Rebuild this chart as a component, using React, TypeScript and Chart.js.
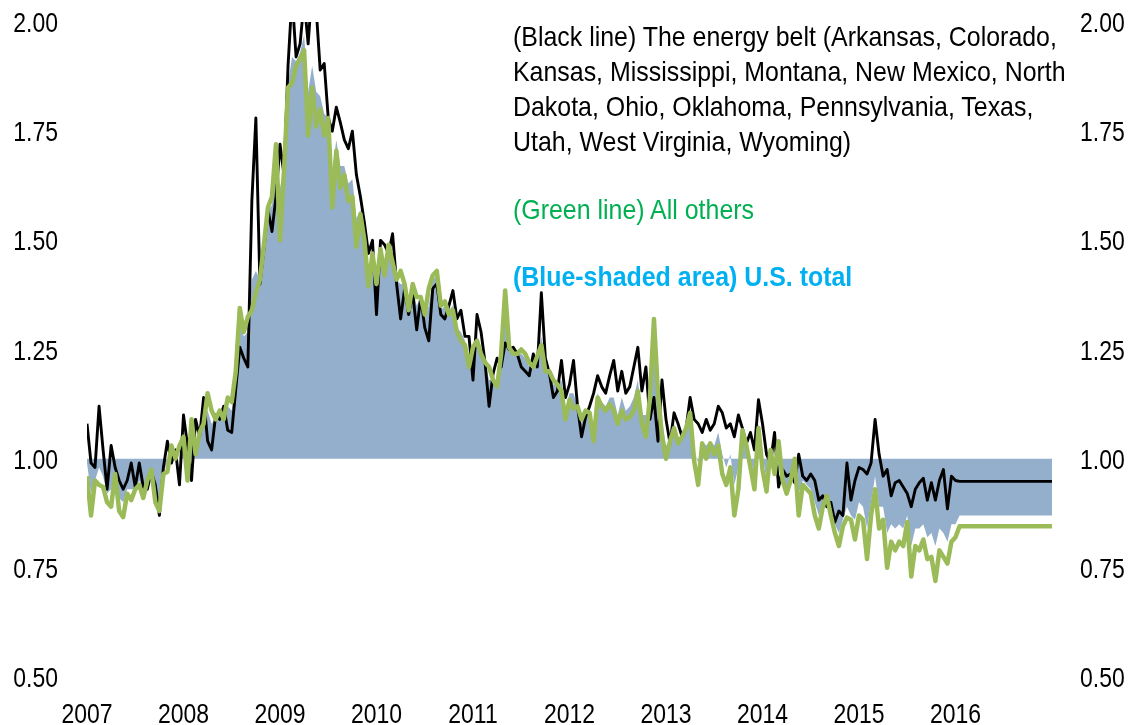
import React, { useEffect, useRef } from "react";
import { Chart, registerables } from "chart.js";

Chart.register(...registerables);

// Semi-monthly observations from 2007.0 (step 1/24 year), last value = flat level held to 2017
const START_YEAR = 2007;
const END_YEAR = 2017;
const STEPS_PER_YEAR = 24;

const energyBelt = [
  1.08, 0.99, 0.98, 1.12, 1.02, 0.93, 1.03, 0.98, 0.95, 0.93, 0.95, 0.99, 0.935, 0.99, 0.935, 0.93, 0.97, 0.94, 0.87, 0.98, 1.04, 0.99, 1.02, 0.94,
  1.10, 1.03, 0.95, 1.09, 1.05, 1.14, 1.04, 1.02, 1.10, 1.09, 1.12, 1.065, 1.06, 1.16, 1.255, 1.23, 1.21, 1.59, 1.78, 1.40, 1.48, 1.57, 1.52, 1.60,
  1.72, 1.65, 1.90, 2.06, 1.92, 1.95, 2.05, 1.95, 2.08, 2.03, 1.89, 1.905, 1.78, 1.75, 1.805, 1.77, 1.73, 1.71, 1.75, 1.65, 1.60, 1.54, 1.47, 1.50,
  1.33, 1.50, 1.49, 1.47, 1.515, 1.40, 1.32, 1.39, 1.33, 1.38, 1.295, 1.37, 1.30, 1.27, 1.39, 1.40, 1.33, 1.32, 1.35, 1.385, 1.32, 1.34, 1.28, 1.28,
  1.18, 1.33, 1.29, 1.22, 1.12, 1.195, 1.23, 1.21, 1.265, 1.25, 1.255, 1.24, 1.21, 1.20, 1.19, 1.24, 1.21, 1.38, 1.23, 1.195, 1.14, 1.155, 1.225, 1.14,
  1.17, 1.225, 1.12, 1.05, 1.095, 1.12, 1.15, 1.19, 1.165, 1.15, 1.19, 1.225, 1.155, 1.20, 1.15, 1.165, 1.21, 1.255, 1.155, 1.21, 1.09, 1.14, 1.04, 1.18,
  1.09, 1.035, 1.105, 1.08, 1.05, 1.07, 1.14, 1.09, 1.08, 1.06, 1.09, 1.065, 1.08, 1.12, 1.105, 1.07, 1.08, 1.05, 1.10, 1.07, 1.035, 1.06, 1.02, 1.135,
  1.08, 1.01, 0.99, 1.06, 0.935, 0.975, 0.96, 0.965, 0.945, 1.01, 0.96, 0.95, 0.965, 0.95, 0.905, 0.915, 0.89, 0.90, 0.855, 0.88, 0.87, 0.99, 0.905, 0.95,
  0.98, 0.975, 0.965, 0.99, 1.09, 1.01, 0.96, 0.975, 0.915, 0.945, 0.95, 0.935, 0.92, 0.89, 0.93, 0.945, 0.955, 0.905, 0.945, 0.905, 0.95, 0.975, 0.885, 0.96,
  0.95, 0.948,
  0.948,
];

const allOthers = [
  0.96, 0.87, 0.95, 0.94, 0.935, 0.90, 0.89, 0.965, 0.88, 0.866, 0.92, 0.905, 0.93, 0.94, 0.91, 0.95, 0.975, 0.90, 0.88, 0.965, 0.97, 1.03, 1.00, 1.03,
  1.05, 0.95, 1.09, 1.01, 1.06, 1.08, 1.15, 1.11, 1.09, 1.11, 1.09, 1.14, 1.13, 1.20, 1.345, 1.29, 1.325, 1.34, 1.38, 1.41, 1.49, 1.575, 1.60, 1.72,
  1.50, 1.66, 1.85, 1.86, 1.90, 1.915, 1.935, 1.74, 1.85, 1.76, 1.80, 1.74, 1.78, 1.575, 1.705, 1.62, 1.65, 1.59, 1.60, 1.485, 1.56, 1.50, 1.395, 1.47,
  1.40, 1.48, 1.42, 1.49, 1.45, 1.41, 1.43, 1.40, 1.34, 1.40, 1.37, 1.37, 1.33, 1.39, 1.42, 1.43, 1.35, 1.36, 1.33, 1.34, 1.29, 1.27, 1.26, 1.21,
  1.255, 1.27, 1.24, 1.22, 1.21, 1.18, 1.165, 1.24, 1.385, 1.255, 1.24, 1.24, 1.25, 1.24, 1.22, 1.21, 1.235, 1.26, 1.20, 1.20, 1.18, 1.17, 1.155, 1.09,
  1.135, 1.115, 1.12, 1.09, 1.11, 1.105, 1.04, 1.14, 1.12, 1.11, 1.125, 1.11, 1.08, 1.11, 1.09, 1.095, 1.11, 1.155, 1.08, 1.05, 1.14, 1.32, 1.15, 1.05,
  1.00, 1.04, 1.07, 1.035, 1.05, 1.07, 1.105, 0.995, 0.94, 1.035, 1.00, 1.035, 1.01, 1.03, 0.965, 0.94, 0.98, 0.87, 0.93, 1.065, 1.03, 0.98, 0.93, 1.07,
  0.975, 0.925, 1.02, 0.965, 1.04, 0.95, 0.92, 0.95, 1.00, 0.87, 0.94, 0.93, 0.92, 0.87, 0.84, 0.89, 0.915, 0.87, 0.83, 0.80, 0.845, 0.865, 0.86, 0.815,
  0.87, 0.86, 0.77, 0.87, 0.93, 0.84, 0.86, 0.75, 0.81, 0.79, 0.81, 0.80, 0.855, 0.73, 0.80, 0.79, 0.815, 0.77, 0.775, 0.72, 0.79, 0.775, 0.76, 0.81,
  0.82, 0.845,
  0.845,
];

const usTotal = [
  0.99, 0.92, 0.95, 0.98, 0.96, 0.92, 0.93, 0.97, 0.91, 0.90, 0.93, 0.93, 0.93, 0.95, 0.92, 0.94, 0.97, 0.92, 0.89, 0.97, 0.99, 1.02, 1.00, 1.00,
  1.06, 0.98, 1.04, 1.03, 1.05, 1.09, 1.11, 1.08, 1.09, 1.10, 1.10, 1.12, 1.11, 1.19, 1.31, 1.28, 1.29, 1.41, 1.43, 1.41, 1.48, 1.57, 1.58, 1.68,
  1.62, 1.67, 1.86, 1.92, 1.91, 1.93, 1.97, 1.84, 1.90, 1.84, 1.83, 1.79, 1.78, 1.66, 1.73, 1.67, 1.67, 1.63, 1.64, 1.55, 1.57, 1.51, 1.43, 1.48,
  1.39, 1.48, 1.44, 1.48, 1.47, 1.41, 1.40, 1.40, 1.34, 1.39, 1.35, 1.37, 1.32, 1.35, 1.41, 1.42, 1.34, 1.35, 1.34, 1.35, 1.30, 1.29, 1.27, 1.23,
  1.23, 1.28, 1.25, 1.22, 1.18, 1.18, 1.18, 1.23, 1.32, 1.25, 1.24, 1.24, 1.24, 1.23, 1.21, 1.22, 1.23, 1.28, 1.21, 1.20, 1.17, 1.17, 1.18, 1.11,
  1.15, 1.15, 1.12, 1.08, 1.11, 1.11, 1.08, 1.15, 1.13, 1.12, 1.14, 1.14, 1.10, 1.14, 1.11, 1.12, 1.14, 1.18, 1.10, 1.10, 1.12, 1.24, 1.12, 1.09,
  1.03, 1.04, 1.08, 1.05, 1.05, 1.07, 1.11, 1.02, 0.99, 1.04, 1.03, 1.04, 1.03, 1.06, 1.01, 0.98, 1.01, 0.94, 0.98, 1.06, 1.03, 1.00, 0.96, 1.08,
  1.01, 0.95, 1.01, 0.99, 1.00, 0.96, 0.93, 0.95, 0.98, 0.92, 0.95, 0.94, 0.93, 0.90, 0.87, 0.90, 0.91, 0.88, 0.85, 0.83, 0.86, 0.89, 0.87, 0.86,
  0.90, 0.89, 0.84, 0.90, 0.96, 0.89, 0.89, 0.83, 0.85, 0.84, 0.85, 0.84, 0.87, 0.80, 0.84, 0.84, 0.85, 0.82, 0.83, 0.80, 0.84, 0.83, 0.81, 0.85,
  0.85, 0.87,
  0.87,
];

const yearTicks = [2007, 2008, 2009, 2010, 2011, 2012, 2013, 2014, 2015, 2016];
const yTicks = [0.5, 0.75, 1.0, 1.25, 1.5, 1.75, 2.0];

const blackNoteLines = [
  "(Black line) The energy belt (Arkansas, Colorado,",
  "Kansas, Mississippi, Montana, New Mexico, North",
  "Dakota, Ohio, Oklahoma, Pennsylvania, Texas,",
  "Utah, West Virginia, Wyoming)",
];
const greenNote = "(Green line) All others";
const blueNote = "(Blue-shaded area) U.S. total";

const FONT = "'Liberation Sans', Arial, sans-serif";
const NARROW = 0.82; // horizontal squeeze for tick labels (narrow face look)
const NOTE_NARROW = 0.89; // horizontal squeeze for annotation text

// Draws tick labels with a horizontally condensed font
const narrowTicks = {
  id: "narrowTicks",
  afterDraw(chart: any) {
    const ctx = chart.ctx as CanvasRenderingContext2D;
    const { left, right } = chart.chartArea;
    const ys = chart.scales.y;
    const xsc = chart.scales.x;
    const put = (text: string, x: number, y: number, align: CanvasTextAlign) => {
      ctx.save();
      ctx.translate(x, y);
      ctx.scale(NARROW, 1);
      ctx.textAlign = align;
      ctx.textBaseline = "alphabetic";
      ctx.fillText(text, 0, 0);
      ctx.restore();
    };
    ctx.save();
    ctx.font = `28px ${FONT}`;
    ctx.fillStyle = "#000";
    for (const v of yTicks) {
      const py = ys.getPixelForValue(v) + 10;
      const label = v.toFixed(2);
      put(label, left - 29, py, "right");
      put(label, right + 28, py, "left");
    }
    for (const yr of yearTicks) {
      put(String(yr), xsc.getPixelForValue(yr), 723, "center");
    }
    ctx.restore();
  },
};

export default function App() {
  const canvasRef = useRef<HTMLCanvasElement | null>(null);

  useEffect(() => {
    const canvas = canvasRef.current;
    if (!canvas) return;
    const n = energyBelt.length;
    const xs = Array.from({ length: n }, (_, i) =>
      i === n - 1 ? END_YEAR : START_YEAR + i / STEPS_PER_YEAR
    );
    const chart = new Chart(canvas, {
      type: "line",
      data: {
        labels: xs,
        datasets: [
          {
            label: "All others",
            data: allOthers,
            borderColor: "#9BBB59",
            borderWidth: 4.5,
            pointRadius: 0,
            fill: false,
            order: 1,
            borderJoinStyle: "round",
            yAxisID: "y",
          },
          {
            label: "Energy belt",
            data: energyBelt,
            borderColor: "#000000",
            borderWidth: 2.9,
            pointRadius: 0,
            fill: false,
            order: 2,
            borderJoinStyle: "round",
            yAxisID: "y",
          },
          {
            label: "U.S. total",
            data: usTotal,
            borderColor: "rgba(0,0,0,0)",
            borderWidth: 0,
            backgroundColor: "#93AFCB",
            pointRadius: 0,
            fill: { value: 1 },
            order: 3,
            yAxisID: "y",
          },
        ],
      },
      options: {
        animation: false,
        responsive: false,
        maintainAspectRatio: false,
        layout: { padding: { top: 22, left: 0, right: 0, bottom: 0 } },
        plugins: { legend: { display: false }, tooltip: { enabled: false } },
        scales: {
          x: {
            type: "linear",
            min: START_YEAR,
            max: END_YEAR,
            grid: { display: false, drawTicks: false },
            border: { display: false },
            afterBuildTicks: (s: any) => {
              s.ticks = yearTicks.map((v) => ({ value: v }));
            },
            afterFit: (s: any) => {
              s.height = 48;
            },
            ticks: { display: false },
          },
          y: {
            position: "left",
            min: 0.5,
            max: 2.0,
            grid: { display: false, drawTicks: false },
            border: { display: false },
            afterBuildTicks: (s: any) => {
              s.ticks = yTicks.map((v) => ({ value: v }));
            },
            afterFit: (s: any) => {
              s.width = 87;
            },
            ticks: { display: false },
          },
          y2: {
            position: "right",
            min: 0.5,
            max: 2.0,
            grid: { display: false, drawTicks: false },
            border: { display: false },
            afterBuildTicks: (s: any) => {
              s.ticks = yTicks.map((v) => ({ value: v }));
            },
            afterFit: (s: any) => {
              s.width = 80;
            },
            ticks: { display: false },
          },
        },
      },
      plugins: [narrowTicks],
    } as any);
    return () => chart.destroy();
  }, []);

  const noteStyle: React.CSSProperties = {
    position: "absolute",
    left: 513,
    fontFamily: FONT,
    fontSize: 28,
    lineHeight: "35px",
    whiteSpace: "nowrap",
    margin: 0,
    transform: `scaleX(${NOTE_NARROW})`,
    transformOrigin: "left top",
  };

  return (
    <div
      style={{
        position: "fixed",
        left: 0,
        top: 0,
        width: 1132,
        height: 725,
        background: "#fff",
      }}
    >
      <canvas ref={canvasRef} width={1132} height={725} style={{ display: "block" }} />
      <div style={{ ...noteStyle, top: 19, color: "#000" }}>
        {blackNoteLines.map((l, i) => (
          <div key={i}>{l}</div>
        ))}
      </div>
      <div style={{ ...noteStyle, top: 192, color: "#00B050" }}>{greenNote}</div>
      <div style={{ ...noteStyle, top: 259, color: "#00B0F0", fontWeight: "bold" }}>{blueNote}</div>
    </div>
  );
}
